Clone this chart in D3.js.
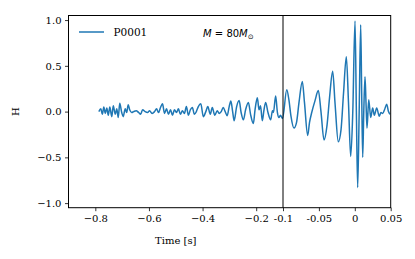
<!DOCTYPE html>
<html>
<head>
<meta charset="utf-8">
<script src="https://cdn.jsdelivr.net/npm/d3@7"></script>
<style>
  body { margin: 0; background: white; }
</style>
</head>
<body>
<div id="plot"></div>
<script>
// waveform

  var times = [-0.7868,-0.7794,-0.7738,-0.7683,-0.7627,-0.7571,-0.7516,-0.7460,-0.7386,-0.7330,
    -0.7256,-0.7200,-0.7145,-0.7089,-0.7015,-0.6959,-0.6885,-0.6829,-0.6774,-0.6718,
    -0.6644,-0.6570,-0.6477,-0.6384,-0.6310,-0.6236,-0.6143,-0.6050,-0.5976,-0.5883,
    -0.5790,-0.5716,-0.5642,-0.5568,-0.5494,-0.5419,-0.5345,-0.5271,-0.5197,-0.5122,
    -0.5048,-0.4974,-0.4900,-0.4826,-0.4751,-0.4677,-0.4603,-0.4529,-0.4455,-0.4380,
    -0.4306,-0.4232,-0.4158,-0.4065,-0.3972,-0.3879,-0.3805,-0.3712,-0.3638,-0.3545,
    -0.3453,-0.3378,-0.3304,-0.3230,-0.3156,-0.3082,-0.3007,-0.2944,-0.2878,-0.2822,
    -0.2729,-0.2636,-0.2562,-0.2477,-0.2395,-0.2291,-0.2210,-0.2106,-0.2043,-0.1957,
    -0.1894,-0.1839,-0.1772,-0.1709,-0.1646,-0.1560,-0.1460,-0.1393,-0.1356,-0.1275,
    -0.1208,-0.1152,-0.1096,-0.1015,
    -0.0948,-0.0916,-0.0889,-0.0847,-0.0812,-0.0777,-0.0731,-0.0701,-0.0656,-0.0631,
    -0.0600,-0.0554,-0.0508,-0.0471,-0.0429,-0.0387,-0.0352,-0.0308,-0.0276,-0.0230,
    -0.0192,-0.0157,-0.0118,-0.0088,-0.0057,-0.0028,0.0003,0.0022,0.0040,0.0061,
    0.0082,0.0096,0.0110,0.0125,0.0142,0.0156,0.0170,0.0194,0.0222,0.0249,
    0.0272,0.0305,0.0341,0.0365,0.0389,0.0414,0.0444,0.0469,0.0490];

  var strain = [0.00,0.03,-0.03,0.05,-0.02,0.04,-0.04,0.05,-0.055,0.065,
    -0.03,0.03,-0.065,0.09,-0.01,-0.055,0.03,-0.01,0.075,0.02,
    -0.01,0.00,0.01,-0.01,-0.03,0.02,0.00,-0.01,0.01,-0.02,
    0.00,0.03,-0.01,0.045,0.085,-0.02,0.03,-0.03,0.02,-0.04,
    0.02,-0.01,0.03,-0.03,0.01,-0.02,0.055,-0.04,0.02,0.045,
    -0.03,0.00,0.055,0.085,-0.055,0.00,0.055,-0.03,0.045,-0.04,
    0.01,-0.02,0.00,0.045,0.00,-0.045,0.055,0.115,0.00,-0.10,
    0.055,0.12,-0.01,-0.09,0.02,0.10,-0.03,-0.13,0.02,0.15,
    0.02,0.065,-0.10,0.02,0.10,-0.01,-0.09,0.01,-0.01,0.17,
    -0.01,-0.065,-0.04,-0.075,
    0.24,0.12,-0.05,-0.18,-0.12,0.10,0.33,0.10,-0.26,-0.12,
    -0.01,0.12,0.23,0.00,-0.31,-0.15,0.15,0.44,0.10,-0.33,
    -0.20,0.20,0.60,0.10,-0.49,0.00,0.99,0.00,-0.83,0.00,
    0.95,0.20,-0.50,0.00,0.38,0.10,-0.18,0.13,-0.065,0.04,
    -0.04,0.04,-0.05,-0.01,-0.02,0.02,0.08,0.00,-0.03];

  var xTicks = [-0.8, -0.6, -0.4, -0.2, -0.1, -0.05, 0, 0.05];
  var xTickLabels = ["\u22120.8", "\u22120.6", "\u22120.4", "\u22120.2", "-0.1", "-0.05", "0", "0.05"];
  var yTicks = [-1, -0.5, 0, 0.5, 1];

  var w = 415;
  var h = 259;
  var margin = {top: 15.5, right: 24.3, bottom: 51.3, left: 68.5};
  var innerWidth = w - margin.left - margin.right;
  var innerHeight = h - margin.top - margin.bottom;
  var splitX = 214.5;   // left panel width

  var serif = "DejaVu Serif";

  var data = times.map((t, i) => ({t: t, v: strain[i]}));

  // broken time axis: slow part on the left, zoomed part on the right
  var xScale = d3.scaleLinear()
      .domain([-0.9, -0.1, 0.05])
      .range([0, splitX, innerWidth]);

  var yScale = d3.scaleLinear()
      .domain([-1.05, 1.05])
      .range([innerHeight, 0]);

  var xAxis = d3.axisBottom(xScale)
      .tickValues(xTicks)
      .tickSize(3.5)
      .tickPadding(3.5)
      .tickFormat((d, i) => xTickLabels[i]);

  var yAxis = d3.axisLeft(yScale)
      .tickValues(yTicks)
      .tickSize(3.5)
      .tickPadding(3.5)
      .tickFormat(d3.format(".1f"));

  var svg = d3.select("div#plot")
    .append("svg")
      .attr("width", w)
      .attr("height", h);

  svg.append("rect")
      .attr("width", w)
      .attr("height", h)
      .attr("fill", "white");

  var g = svg.append("g")
      .attr("transform", `translate(${margin.left}, ${margin.top})`);

// waveform

  var line = d3.line()
      .x(d => xScale(d.t))
      .y(d => yScale(d.v))
      .curve(d3.curveMonotoneX);

  g.append("path")
      .datum(data)
      .attr("d", line)
      .attr("fill", "none")
      .attr("stroke", "#1f77b4")
      .attr("stroke-width", 1.5)
      .attr("stroke-linejoin", "round");

// frame and divider

  g.append("rect")
      .attr("width", innerWidth)
      .attr("height", innerHeight)
      .attr("fill", "none")
      .attr("stroke", "black")
      .attr("stroke-width", 1);

  g.append("line")
      .attr("x1", xScale(-0.1))
      .attr("x2", xScale(-0.1))
      .attr("y1", 0)
      .attr("y2", innerHeight)
      .attr("stroke", "black")
      .attr("stroke-width", 1);

// axes

  var gx = g.append("g")
      .attr("transform", `translate(0, ${innerHeight})`)
      .call(xAxis);

  var gy = g.append("g")
      .call(yAxis);

  [gx, gy].forEach(a => {
    a.attr("font-family", serif).attr("font-size", 10);
    a.select(".domain").remove();
    a.selectAll("text").attr("fill", "black");
    a.selectAll("line").attr("stroke", "black").attr("stroke-width", 0.8);
  });

  g.append("text")
      .attr("x", splitX / 2)
      .attr("y", innerHeight + 36)
      .attr("text-anchor", "middle")
      .attr("font-family", serif)
      .attr("font-size", 10)
      .text("Time [s]");

  svg.append("text")
      .attr("transform", `translate(19, ${margin.top + yScale(0)}) rotate(-90)`)
      .attr("text-anchor", "middle")
      .attr("font-family", serif)
      .attr("font-size", 10)
      .text("H");

// legend

  g.append("line")
      .attr("x1", 10.5)
      .attr("x2", 35.5)
      .attr("y1", 16.5)
      .attr("y2", 16.5)
      .attr("stroke", "#1f77b4")
      .attr("stroke-width", 1.5);

  g.append("text")
      .attr("x", 45)
      .attr("y", 20)
      .attr("font-family", serif)
      .attr("font-size", 10.5)
      .text("P0001");

  var mass = g.append("text")
      .attr("x", 134.5)
      .attr("y", 21)
      .attr("font-family", "DejaVu Sans")
      .attr("font-size", 10);
  mass.append("tspan").attr("font-style", "italic").text("M");
  mass.append("tspan").text(" = 80");
  mass.append("tspan").attr("font-style", "italic").text("M");
  mass.append("tspan").attr("font-size", 7).attr("dy", 2).text("\u2299");
</script>
</body>
</html>
